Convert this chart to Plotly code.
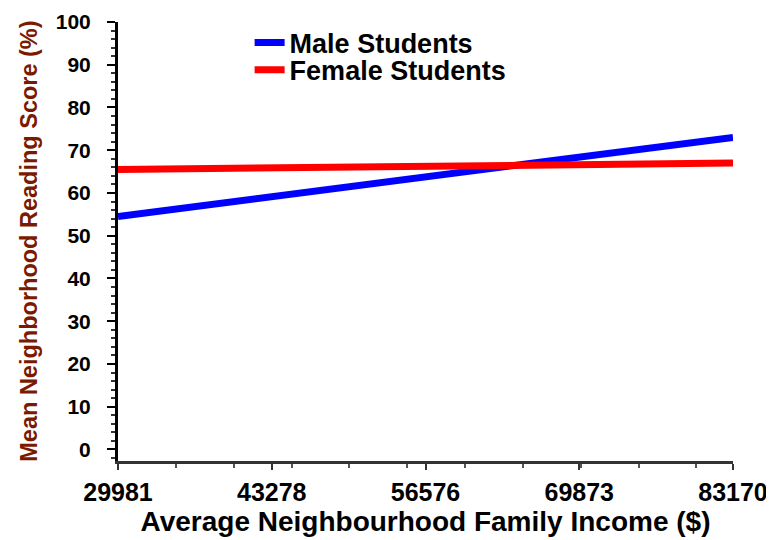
import plotly.graph_objects as go

income = [29981, 83170]
male_scores = [54.5, 73.0]
female_scores = [65.5, 67.0]
x_ticks = [29981, 43278, 56576, 69873, 83170]
y_ticks = [0, 10, 20, 30, 40, 50, 60, 70, 80, 90, 100]

FONT = "Liberation Sans, Arial, sans-serif"

# page body has an 8px margin, so the figure is sized 8px smaller
fig = go.Figure()
fig.add_trace(go.Scatter(x=income, y=male_scores, mode="lines", name="<b>Male Students</b>",
                         line=dict(color="#0000ff", width=7), legend="legend"))
fig.add_trace(go.Scatter(x=income, y=female_scores, mode="lines", name="<b>Female Students</b>",
                         line=dict(color="#ff0000", width=7), legend="legend2"))

leg_common = dict(xanchor="left", yanchor="middle", font=dict(size=27, color="black"),
                  bgcolor="rgba(0,0,0,0)", borderwidth=0)

fig.update_layout(
    width=766, height=532,
    margin=dict(l=110, r=41, t=14, b=79, autoexpand=False),
    paper_bgcolor="white", plot_bgcolor="white",
    font=dict(family=FONT, color="black"),
    showlegend=True,
    legend=dict(x=0.214, y=0.952, **leg_common),
    legend2=dict(x=0.214, y=0.890, **leg_common),
    xaxis=dict(range=[29981, 83170], tickvals=x_ticks,
               ticktext=[f"<b>{v}</b>" for v in x_ticks],
               tickfont=dict(size=25), showgrid=False, zeroline=False,
               showline=True, linecolor="#333333", linewidth=3,
               ticks="outside", ticklen=6, tickwidth=2, tickcolor="#333333",
               ticklabelstandoff=1, automargin=False,
               minor=dict(nticks=5, ticks="outside", ticklen=4, tickwidth=2, tickcolor="#555555"),
               title=dict(text="<b>Average Neighbourhood Family Income ($)</b>",
                          font=dict(size=28), standoff=1)),
    yaxis=dict(range=[-2.7, 100], tickvals=y_ticks,
               ticktext=[f"<b>{v}</b>" for v in y_ticks],
               tickfont=dict(size=21), showgrid=False, zeroline=False,
               showline=True, linecolor="black", linewidth=3,
               ticks="outside", ticklen=8, tickwidth=2, tickcolor="black",
               ticklabelstandoff=12, automargin=False,
               minor=dict(dtick=2, ticks="outside", ticklen=4, tickwidth=2, tickcolor="#333333")),
    annotations=[dict(text="<b>Mean Neighborhood Reading Score (%)</b>",
                      xref="paper", yref="paper", x=-0.146, y=0.5,
                      xanchor="center", yanchor="middle", textangle=-90, showarrow=False,
                      font=dict(size=23.5, color="#7a1a00"))],
)

fig.write_html("out.html")
